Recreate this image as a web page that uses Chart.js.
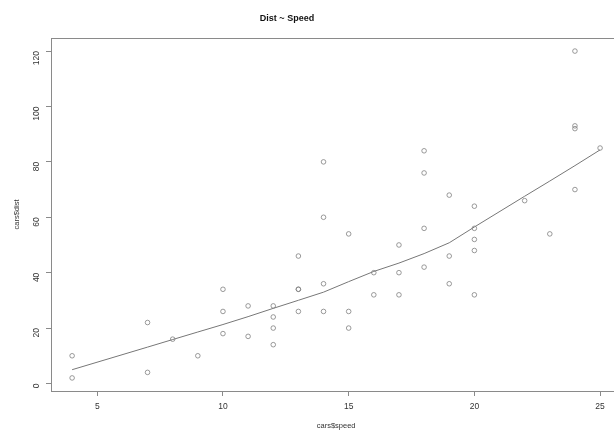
<!DOCTYPE html>
<html>
<head>
<meta charset="utf-8">
<script src="https://cdn.jsdelivr.net/npm/chart.js@4.4.0/dist/chart.umd.min.js"></script>
<style>
  html, body { margin: 0; padding: 0; background: #fff; overflow: hidden; }
  #wrap { width: 626px; height: 432px; }
</style>
</head>
<body>
<div id="wrap"><canvas id="chart" width="626" height="432"></canvas></div>
<script>
// cars data set
var speed = [4, 4, 7, 7, 8, 9, 10, 10, 10, 11, 11, 12, 12, 12, 12, 13, 13, 13, 13, 14, 14, 14, 14, 15, 15, 15, 16, 16, 17, 17, 17, 18, 18, 18, 18, 19, 19, 19, 20, 20, 20, 20, 20, 22, 23, 24, 24, 24, 24, 25]
var dist = [2, 10, 4, 22, 16, 10, 18, 26, 34, 17, 28, 14, 20, 24, 28, 26, 34, 34, 46, 26, 36, 60, 80, 20, 26, 54, 32, 40, 32, 40, 50, 42, 56, 76, 84, 36, 46, 68, 32, 48, 52, 56, 64, 66, 54, 70, 92, 93, 120, 85]
// smoothed curve (lowess)
var smoothX = [4, 7, 8, 9, 10, 11, 12, 13, 14, 15, 16, 17, 18, 19, 20, 22, 23, 24, 25]
var smoothY = [4.97, 13.12, 15.86, 18.58, 21.28, 24.13, 27.12, 30.03, 32.96, 36.76, 40.44, 43.46, 46.89, 50.79, 56.49, 67.59, 73.08, 78.64, 84.33]
var xTicks = [5, 10, 15, 20, 25]
var yTicks = [0, 20, 40, 60, 80, 100, 120]

var points = speed.map(function (s, i) { return { x: s, y: dist[i] } })
var curve = smoothX.map(function (s, i) { return { x: s, y: smoothY[i] } })

var FONT = '"Liberation Sans", Arial, sans-serif'

var frame = {
  id: 'frame',
  afterDraw: function (chart) {
    var c = chart.ctx
    var a = chart.chartArea
    c.save()
    c.strokeStyle = '#8a8a8a'
    c.lineWidth = 1
    c.strokeRect(a.left + 0.5, a.top + 0.5, a.right - a.left, a.bottom - a.top)
    c.fillStyle = '#111'
    c.font = 'bold 9px ' + FONT
    c.textAlign = 'center'
    c.textBaseline = 'middle'
    c.fillText('Dist ~ Speed', 287, 19)
    c.restore()
  }
}

new Chart(document.getElementById('chart'), {
  data: {
    datasets: [{
      type: 'scatter',
      data: points,
      pointStyle: 'circle',
      pointRadius: 2.3,
      pointBorderWidth: 0.8,
      pointBorderColor: '#808080',
      pointBackgroundColor: 'rgba(0,0,0,0)'
    }, {
      type: 'line',
      data: curve,
      borderColor: '#777',
      borderWidth: 1,
      pointRadius: 0,
      tension: 0,
      fill: false
    }]
  },
  options: {
    responsive: false,
    animation: false,
    layout: { padding: { top: 38, right: 3, left: 0, bottom: 0 } },
    plugins: { legend: { display: false }, tooltip: { enabled: false }, title: { display: false } },
    scales: {
      x: {
        type: 'linear',
        min: 3.16,
        max: 25.84,
        afterBuildTicks: function (s) { s.ticks = xTicks.map(function (v) { return { value: v } }) },
        afterFit: function (s) { s.height = 41 },
        grid: { drawOnChartArea: false, drawTicks: true, tickLength: 5, color: '#8a8a8a' },
        border: { display: false },
        ticks: { color: '#333', font: { size: 8.5, family: FONT }, padding: 6, maxRotation: 0 },
        title: { display: true, text: 'cars$speed', color: '#333', font: { size: 7.5, family: FONT }, padding: { top: 0, bottom: 1.5 } }
      },
      y: {
        type: 'linear',
        min: -2.72,
        max: 124.72,
        afterBuildTicks: function (s) { s.ticks = yTicks.map(function (v) { return { value: v } }) },
        afterFit: function (s) { s.width = 51 },
        grid: { drawOnChartArea: false, drawTicks: true, tickLength: 5, color: '#8a8a8a' },
        border: { display: false },
        ticks: { color: '#333', font: { size: 8.5, family: FONT }, padding: 9.5, minRotation: 90, maxRotation: 90 },
        title: { display: true, text: 'cars$dist', color: '#333', font: { size: 7.5, family: FONT }, padding: { top: 12.5, bottom: 0 } }
      }
    }
  },
  plugins: [frame]
})
</script>
</body>
</html>
